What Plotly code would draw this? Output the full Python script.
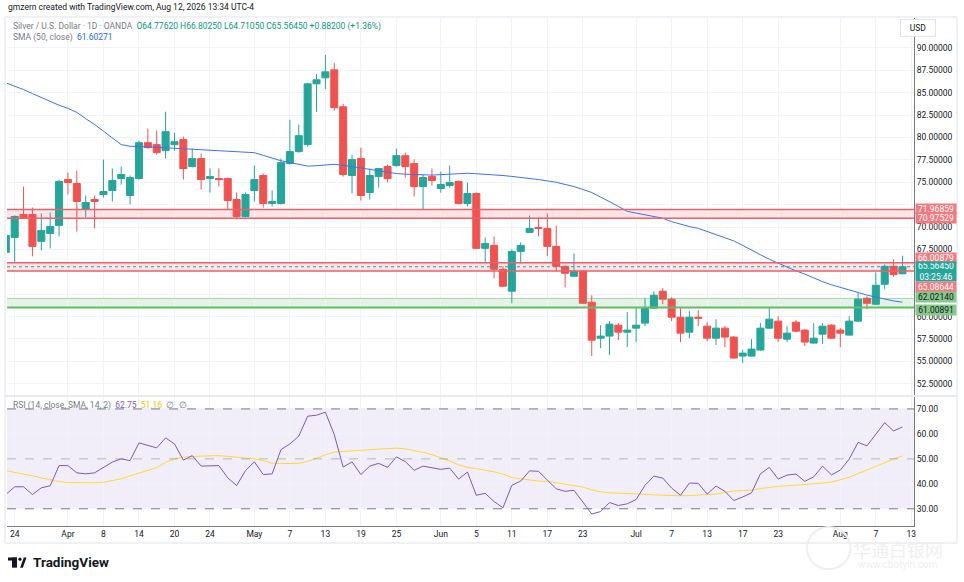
import pandas as pd
from plotly import graph_objs as go

# daily candles, OANDA silver, 23 Mar - 12 Aug 2026 (Good Friday closed)
opens = [67.17, 68.84, 71.40, 71.40, 68.40, 69.29, 70.18, 75.30, 74.86, 71.96,
         73.07, 73.63, 74.08, 75.41, 73.52, 75.41, 79.42, 79.20, 78.53, 79.20,
         79.76, 76.75, 77.64, 75.41, 75.41, 75.41, 73.07, 71.18, 74.08, 75.75,
         72.63, 72.63, 77.08, 78.42, 79.20, 85.99, 86.66, 87.55, 83.43, 75.75,
         77.64, 73.85, 75.63, 76.75, 76.86, 77.97, 77.08, 74.52, 75.63, 74.30,
         74.63, 75.08, 72.63, 73.74, 67.62, 67.95, 65.28, 62.83, 67.28, 69.40,
         69.96, 69.84, 67.84, 65.61, 64.50, 65.06, 61.60, 57.59, 57.82, 59.04,
         58.26, 58.71, 59.27, 60.94, 62.83, 61.94, 59.93, 58.26, 59.93, 58.93,
         57.59, 58.71, 57.71, 55.59, 55.59, 56.26, 58.71, 59.49, 57.48, 59.38,
         58.49, 57.04, 58.04, 59.04, 58.49, 57.93, 59.49, 62.05, 61.38, 63.61,
         65.61, 64.7762]
highs = [69.30, 71.30, 74.52, 72.18, 71.51, 71.63, 75.30, 76.08, 76.30, 73.52,
         73.52, 77.53, 76.53, 76.75, 75.75, 79.64, 80.98, 80.76, 82.87, 80.53,
         80.09, 78.75, 78.20, 76.53, 76.53, 75.52, 73.85, 73.85, 76.86, 75.97,
         74.08, 77.64, 81.98, 81.43, 86.10, 87.10, 89.22, 88.33, 83.76, 78.08,
         78.86, 76.53, 76.53, 76.97, 78.75, 78.31, 77.53, 75.86, 76.53, 76.19,
         76.86, 75.19, 74.97, 73.85, 68.84, 68.95, 65.61, 67.51, 68.29, 71.29,
         71.07, 71.51, 70.18, 65.72, 67.06, 65.17, 62.38, 59.04, 59.49, 59.27,
         60.49, 60.94, 62.05, 62.83, 63.16, 62.16, 60.94, 60.60, 60.71, 59.38,
         59.71, 58.93, 57.82, 56.26, 57.48, 59.27, 60.94, 60.04, 58.93, 59.60,
         58.60, 59.27, 59.27, 59.15, 58.71, 60.04, 62.61, 62.27, 64.94, 65.83,
         66.39, 66.8025]
lows = [66.60, 66.06, 71.00, 66.73, 67.39, 67.62, 68.95, 73.63, 69.51, 71.07,
        69.84, 73.30, 72.85, 74.74, 72.52, 75.30, 78.75, 78.08, 77.64, 78.53,
        75.30, 76.64, 74.19, 73.85, 74.52, 71.96, 70.85, 71.07, 72.85, 72.18,
        72.29, 72.52, 76.97, 78.31, 78.98, 82.87, 85.43, 82.98, 75.63, 73.74,
        72.96, 73.07, 74.41, 74.97, 76.75, 75.52, 73.41, 71.96, 74.63, 73.85,
        74.41, 72.52, 72.29, 67.55, 66.06, 64.28, 63.30, 61.49, 65.95, 69.35,
        68.95, 66.73, 65.06, 63.27, 64.45, 61.38, 55.59, 56.48, 55.70, 57.37,
        56.59, 57.15, 58.93, 60.82, 61.38, 59.49, 57.15, 57.59, 58.93, 57.26,
        56.82, 56.59, 55.30, 54.81, 55.55, 56.15, 58.65, 57.15, 57.15, 58.26,
        56.70, 57.00, 56.93, 57.48, 56.59, 57.90, 59.38, 60.82, 61.27, 63.05,
        64.45, 64.7105]
closes = [69.06, 71.18, 71.07, 67.84, 69.62, 70.07, 75.08, 74.97, 72.85, 72.74,
          72.85, 73.96, 75.19, 75.86, 75.52, 79.42, 78.86, 78.31, 80.65, 79.53,
          76.53, 77.64, 75.30, 75.63, 75.30, 72.96, 71.18, 73.63, 75.30, 72.63,
          72.85, 77.19, 78.42, 80.20, 85.99, 86.44, 87.33, 83.32, 75.86, 77.53,
          73.52, 75.75, 76.53, 75.41, 77.97, 76.75, 74.52, 75.52, 75.19, 74.74,
          74.97, 72.63, 73.74, 67.62, 68.17, 65.28, 63.39, 67.28, 67.95, 69.84,
          69.84, 67.84, 65.61, 64.83, 65.06, 61.49, 57.37, 57.82, 59.15, 58.26,
          58.49, 59.04, 60.94, 62.38, 61.94, 59.93, 58.15, 59.93, 59.82, 57.59,
          58.71, 57.71, 55.37, 55.92, 56.37, 58.71, 59.71, 57.59, 58.15, 58.37,
          57.15, 57.59, 58.93, 57.59, 58.15, 59.49, 61.94, 61.49, 63.50, 65.61,
          64.6825, 65.5645]
sma50 = [86.10, 85.75, 85.35, 84.90, 84.45, 84.00, 83.60, 83.25, 82.80, 82.10,
         81.45, 80.70, 79.90, 79.20, 79.02, 79.00, 78.95, 78.90, 78.85, 78.80,
         78.70, 78.65, 78.60, 78.55, 78.50, 78.45, 78.40, 78.35, 78.30, 78.00,
         77.70, 77.40, 77.20, 77.00, 76.80, 76.85, 76.95, 77.00, 76.90, 76.75,
         76.60, 76.45, 76.30, 76.10, 75.97, 75.90, 75.85, 75.82, 75.80, 75.85,
         75.90, 75.95, 76.00, 75.95, 75.90, 75.85, 75.75, 75.65, 75.55, 75.42,
         75.30, 75.15, 75.00, 74.75, 74.52, 74.20, 73.85, 73.35, 72.85, 72.30,
         71.75, 71.55, 71.35, 71.15, 70.98, 70.60, 70.30, 70.05, 69.85, 69.50,
         69.20, 68.85, 68.45, 67.95, 67.40, 66.90, 66.40, 65.95, 65.50, 65.10,
         64.75, 64.30, 63.90, 63.55, 63.25, 62.95, 62.70, 62.40, 62.17, 61.95,
         61.75, 61.60271]
rsi = [35.7, 38.8, 38.8, 35.7, 38.4, 39.2, 47.3, 47.3, 44.4, 44.0,
       44.4, 46.7, 48.7, 50.0, 49.3, 56.4, 55.5, 54.4, 58.4, 56.0,
       49.5, 51.3, 47.1, 47.3, 47.3, 42.4, 39.3, 45.3, 48.8, 43.7,
       44.0, 53.7, 56.0, 59.1, 67.1, 67.5, 68.7, 59.7, 46.7, 48.8,
       43.7, 47.1, 48.2, 46.6, 50.8, 48.9, 45.4, 47.1, 46.5, 45.8,
       46.3, 41.9, 44.7, 35.4, 36.2, 32.9, 30.4, 39.4, 41.1, 45.2,
       45.0, 41.4, 38.0, 37.0, 37.4, 32.7, 27.9, 28.9, 32.5, 31.3,
       32.0, 33.7, 39.4, 43.1, 42.3, 38.3, 35.4, 40.3, 40.2, 35.9,
       39.1, 37.0, 33.3, 34.7, 36.4, 44.0, 46.6, 41.9, 43.5, 43.9,
       41.0, 42.8, 47.1, 43.6, 45.5, 49.9, 56.6, 55.2, 60.0, 64.5,
       61.2, 62.75]
rsi_ma = [45.3, 44.7, 44.0, 43.2, 42.4, 41.6, 40.9, 40.5, 40.4, 40.4,
          40.4, 40.6, 41.2, 42.0, 43.2, 44.2, 45.3, 46.5, 48.6, 50.0,
          50.7, 51.0, 51.1, 51.2, 51.3, 51.0, 50.7, 50.5, 50.0, 49.3,
          48.3, 48.1, 48.1, 48.2, 49.0, 50.4, 51.6, 52.7, 53.0, 53.3,
          53.5, 53.7, 53.9, 54.1, 54.3, 54.0, 53.4, 52.6, 51.7, 50.6,
          49.2, 47.6, 46.6, 46.1, 45.5, 44.8, 43.9, 42.5, 42.0, 41.4,
          41.1, 41.0, 40.4, 39.6, 39.1, 38.7, 37.6, 36.8, 36.4, 36.3,
          36.3, 35.9, 35.8, 35.6, 35.4, 35.1, 35.2, 35.3, 35.5, 35.7,
          35.9, 36.5, 37.1, 37.3, 37.5, 38.1, 38.7, 39.0, 39.2, 39.4,
          39.6, 39.9, 40.3, 40.7, 41.5, 42.6, 44.1, 45.6, 47.1, 48.6,
          49.9, 51.16]

# horizontal zones drawn on the chart
red_zone_top = [70.97529, 71.96859]
red_zone_mid = [65.08644, 66.00879]
green_zone = [61.00891, 62.02140]
last_price = 65.5645
change_pct = 1.36

price_ticks = [52.5, 55.0, 57.5, 60.0, 62.5, 65.0, 67.5, 70.0, 72.5, 75.0, 77.5, 80.0,
               82.5, 85.0, 87.5, 90.0]
hidden_ticks = [62.5, 65.0, 72.5]  # covered by the price tags on the axis
rsi_ticks = [30, 40, 50, 60, 70]
tick_dates = ["2026-03-24", "2026-04-01", "2026-04-08", "2026-04-14", "2026-04-20",
              "2026-04-24", "2026-05-01", "2026-05-07", "2026-05-13", "2026-05-19",
              "2026-05-25", "2026-06-01", "2026-06-05", "2026-06-11", "2026-06-17",
              "2026-06-23", "2026-07-01", "2026-07-07", "2026-07-13", "2026-07-17",
              "2026-07-23", "2026-08-03", "2026-08-07", "2026-08-13"]
tick_text = ["24", "Apr", "8", "14", "20", "24", "May", "7", "13", "19", "25", "Jun",
             "5", "11", "17", "23", "Jul", "7", "13", "17", "23", "Aug", "7", "13"]

# trading calendar (plus one future bar for the last tick)
dates = pd.bdate_range("2026-03-23", "2026-08-13")
dates = dates[dates != pd.Timestamp("2026-04-03")]
tickvals = [dates.get_loc(pd.Timestamp(d)) for d in tick_dates]
xs = list(range(len(closes)))
price_text = ["" if p in hidden_ticks else f"{p:.5f}" for p in price_ticks]

UP = "#26a69a"
DOWN = "#ef5350"
GRID = "#f0f3fa"
TXT = "#131722"
FONT = "Roboto"

fig = go.Figure()

fig.add_trace(go.Candlestick(x=xs, open=opens, high=highs, low=lows, close=closes,
                             xaxis="x2", yaxis="y", whiskerwidth=0,
                             increasing=dict(line=dict(color=UP, width=1), fillcolor=UP),
                             decreasing=dict(line=dict(color=DOWN, width=1), fillcolor=DOWN)))
fig.add_trace(go.Scatter(x=xs, y=sma50, mode="lines", xaxis="x2", yaxis="y",
                         line=dict(color="#3d72f5", width=1)))

fig.add_trace(go.Scatter(x=xs, y=rsi_ma, mode="lines", xaxis="x", yaxis="y2",
                         line=dict(color="#fdd835", width=1)))
fig.add_trace(go.Scatter(x=xs, y=rsi, mode="lines", xaxis="x", yaxis="y2",
                         line=dict(color="#7e57c2", width=1)))

shapes = []
# zones
for lo, hi in [red_zone_top, red_zone_mid]:
    shapes.append(dict(type="rect", xref="paper", yref="y", x0=0, x1=1, y0=lo, y1=hi,
                       fillcolor="rgba(242,54,69,0.13)", line=dict(width=0), layer="below"))
    for v in (lo, hi):
        shapes.append(dict(type="line", xref="paper", yref="y", x0=0, x1=1, y0=v, y1=v,
                           line=dict(color="#ef5f67", width=1.5)))
shapes.append(dict(type="rect", xref="paper", yref="y", x0=0, x1=1, y0=green_zone[0], y1=green_zone[1],
                   fillcolor="rgba(76,175,80,0.15)", line=dict(width=0), layer="below"))
shapes.append(dict(type="line", xref="paper", yref="y", x0=0, x1=1, y0=green_zone[1], y1=green_zone[1],
                   line=dict(color="rgba(76,175,80,0.45)", width=1)))
shapes.append(dict(type="line", xref="paper", yref="y", x0=0, x1=1, y0=green_zone[0], y1=green_zone[0],
                   line=dict(color="#66bb6a", width=2)))
shapes.append(dict(type="line", xref="paper", yref="y", x0=0, x1=1, y0=last_price, y1=last_price,
                   line=dict(color=UP, width=1, dash="dot")))

# rsi band and levels
shapes.append(dict(type="rect", xref="paper", yref="y2", x0=0, x1=1, y0=30, y1=70,
                   fillcolor="rgba(126,87,194,0.1)", line=dict(width=0), layer="below"))
for v, c in [(70, "#787b86"), (50, "rgba(120,123,134,0.5)"), (30, "#787b86")]:
    shapes.append(dict(type="line", xref="paper", yref="y2", x0=0, x1=1, y0=v, y1=v,
                       line=dict(color=c, width=1, dash="dash")))

# pane divider, frame, logo
shapes.append(dict(type="line", xref="paper", yref="paper", x0=-0.002, x1=1.047, y0=0.2559, y1=0.2559,
                   line=dict(color="#d1d4dc", width=1)))
shapes.append(dict(type="rect", xref="paper", yref="paper", x0=-0.0022, x1=1.0474, y0=-0.0335, y1=1.002,
                   line=dict(color="#e0e3eb", width=1)))
shapes.append(dict(type="rect", xref="paper", yref="paper", x0=0.0011, x1=0.0110, y0=-0.0620, y1=-0.0680,
                   fillcolor="#131722", line=dict(width=0)))
shapes.append(dict(type="rect", xref="paper", yref="paper", x0=0.0055, x1=0.0110, y0=-0.0620, y1=-0.0820,
                   fillcolor="#131722", line=dict(width=0)))
shapes.append(dict(type="circle", xref="paper", yref="paper", x0=0.0125, x1=0.0160, y0=-0.0620, y1=-0.0685,
                   fillcolor="#131722", line=dict(width=0)))
shapes.append(dict(type="path", xref="paper", yref="paper",
                   path="M 0.0185 -0.0620 L 0.0215 -0.0620 L 0.0175 -0.0820 L 0.0145 -0.0820 Z",
                   fillcolor="#131722", line=dict(width=0)))
shapes.append(dict(type="circle", xref="paper", yref="paper", x0=0.882, x1=0.930, y0=-0.085, y1=-0.002,
                   line=dict(color="#efefef", width=2)))

annotations = []


def tag(price, text, bg, fg, shift=0, lines=1):
    annotations.append(dict(xref="paper", yref="y", x=1.0011, y=price, xanchor="left", yanchor="middle",
                            text=text, showarrow=False, bgcolor=bg, width=38, height=9 * lines - 1,
                            borderpad=1, yshift=shift, font=dict(family=FONT, size=8.5, color=fg)))


tag(red_zone_top[1], f"{red_zone_top[1]:.5f}", "#f27a7f", "white")
tag(red_zone_top[0], f"{red_zone_top[0]:.5f}", "#f27a7f", "white")
tag(red_zone_mid[1], f"{red_zone_mid[1]:.5f}", "#f27a7f", "white", shift=5)
tag(last_price, f"{last_price:.5f}<br>03:25:46", UP, "white", shift=-5, lines=2)
tag(red_zone_mid[0], f"{red_zone_mid[0]:.5f}", "#f27a7f", "white", shift=-16)
tag(green_zone[1], f"{green_zone[1]:.5f}", "#86c98a", TXT, shift=1)
tag(green_zone[0], f"{green_zone[0]:.5f}", "#86c98a", TXT, shift=-2)

annotations.append(dict(xref="paper", yref="paper", x=1.0248, y=0.980, yanchor="middle", text="USD",
                        showarrow=False, bgcolor="white", bordercolor="#e0e3eb", borderwidth=1,
                        width=30, height=12, borderpad=2,
                        font=dict(family=FONT, size=8.5, color=TXT)))
annotations.append(dict(xref="paper", yref="paper", x=-0.001, y=1.021, xanchor="left", yanchor="middle",
                        text="gmzern created with TradingView.com, Aug 12, 2026 13:34 UTC-4", showarrow=False,
                        font=dict(family=FONT, size=8.5, color=TXT)))
ohlc = (f"O{opens[-1]:.5f} H{highs[-1]:.5f} L{lows[-1]:.5f} C{closes[-1]:.5f} "
        f"+{closes[-1] - closes[-2]:.5f} (+{change_pct:.2f}%)")
annotations.append(dict(xref="paper", yref="paper", x=0.0045, y=0.984, xanchor="left", yanchor="middle",
                        text=f"<span style='color:#787b86'>Silver / U.S. Dollar · 1D · OANDA</span>  "
                             f"<span style='color:#089981'>{ohlc}</span>",
                        showarrow=False, font=dict(family=FONT, size=8.5, color=TXT)))
annotations.append(dict(xref="paper", yref="paper", x=0.0045, y=0.962, xanchor="left", yanchor="middle",
                        text=f"<span style='color:#787b86'>SMA (50, close)</span>  "
                             f"<span style='color:#2962ff'>{sma50[-1]:.5f}</span>",
                        showarrow=False, font=dict(family=FONT, size=8.5, color=TXT)))
annotations.append(dict(xref="paper", yref="paper", x=0.0045, y=0.238, xanchor="left", yanchor="middle",
                        text=f"<span style='color:#787b86'>RSI (14, close, SMA, 14, 2)</span>  "
                             f"<span style='color:#7e57c2'>{rsi[-1]:.2f}</span>  "
                             f"<span style='color:#e6c800'>{rsi_ma[-1]:.2f}</span>  "
                             f"<span style='color:#787b86'>∅  ∅</span>",
                        showarrow=False, font=dict(family=FONT, size=8.5, color=TXT)))
annotations.append(dict(xref="paper", yref="paper", x=0.0270, y=-0.071, xanchor="left", yanchor="middle",
                        text="<b>TradingView</b>", showarrow=False,
                        font=dict(family=FONT, size=13.5, color="#131722")))
annotations.append(dict(xref="paper", yref="paper", x=0.982, y=-0.046, xanchor="center", yanchor="middle",
                        text="华通白银网", showarrow=False,
                        font=dict(family="Noto Sans CJK SC", size=18, color="#efefef")))
annotations.append(dict(xref="paper", yref="paper", x=0.982, y=-0.076, xanchor="center", yanchor="middle",
                        text="www.cbotyin.com", showarrow=False,
                        font=dict(family=FONT, size=10, color="#efefef")))

axis_font = dict(family=FONT, size=8.5, color=TXT)

fig.update_layout(
    width=964, height=582,
    margin=dict(l=7, r=50, t=18, b=56),
    paper_bgcolor="white", plot_bgcolor="white",
    showlegend=False, hovermode=False,
    boxgap=0.12, boxgroupgap=0.1,
    font=dict(family=FONT, size=8.5, color=TXT),
    xaxis=dict(domain=[0, 1], anchor="y2", range=[0.135, 102.3], tickvals=tickvals, ticktext=tick_text,
               showgrid=True, gridcolor=GRID, zeroline=False, showline=True, linecolor="#787b86",
               ticks="", tickfont=axis_font, rangeslider=dict(visible=False)),
    xaxis2=dict(domain=[0, 1], anchor="y", matches="x", tickvals=tickvals, showticklabels=False,
                showgrid=True, gridcolor=GRID, zeroline=False, ticks="", rangeslider=dict(visible=False)),
    yaxis=dict(domain=[0.258, 1], anchor="x2", side="right", range=[51.25, 93.34], tickvals=price_ticks,
               ticktext=price_text, showgrid=True, gridcolor=GRID, zeroline=False, showline=True,
               linecolor="#787b86", ticks="", tickfont=axis_font),
    yaxis2=dict(domain=[0, 0.2545], anchor="x", side="right", range=[23.1, 74.9],
                tickvals=rsi_ticks, tickformat=".2f", showgrid=True, gridcolor=GRID,
                zeroline=False, showline=True, linecolor="#787b86", ticks="", tickfont=axis_font),
    shapes=shapes,
    annotations=annotations,
)

fig.write_html("out.html", config={"displayModeBar": False},
               post_script="document.body.style.margin='0';")
